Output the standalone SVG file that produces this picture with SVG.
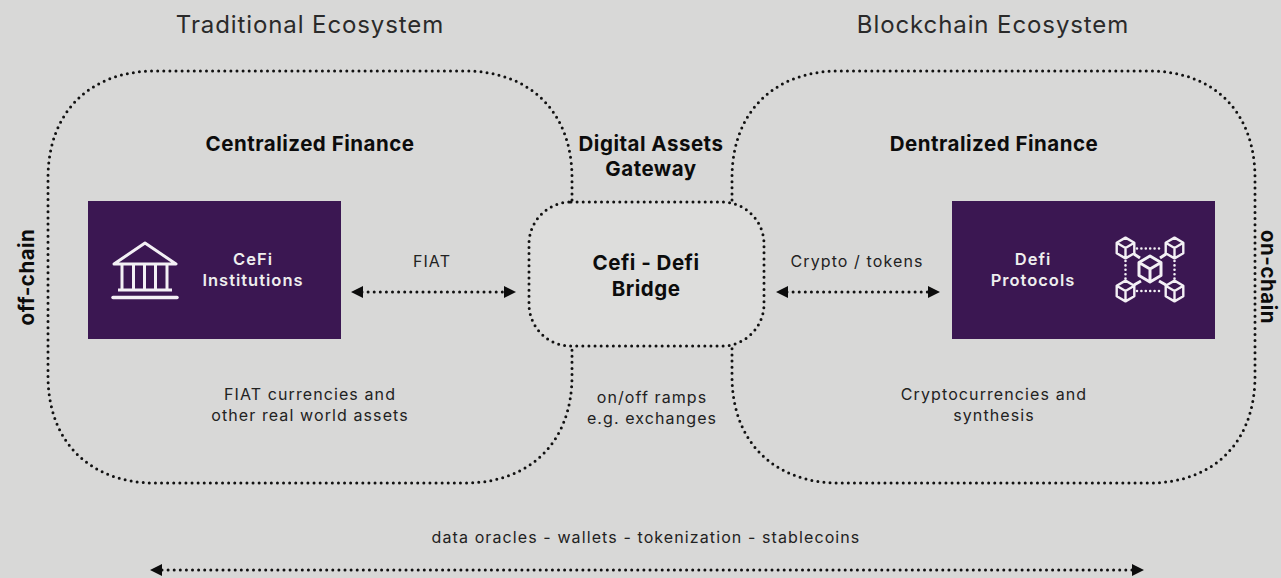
<svg xmlns="http://www.w3.org/2000/svg" width="1281" height="578" viewBox="0 0 1281 578">
<style>
text{font-family:Inter,"Open Sans","Liberation Sans",sans-serif;fill:#141414;text-anchor:middle}
.h{font-size:24px;font-weight:400;letter-spacing:.9px;fill:#2a2a2a}
.b{font-size:20.5px;font-weight:700;letter-spacing:.5px;fill:#0c0c0c}
.r{font-size:16px;font-weight:400;letter-spacing:1.1px;fill:#222}
.w{font-size:16.5px;font-weight:600;fill:#eee;letter-spacing:1px}
.d{fill:none;stroke:#111;stroke-width:3;stroke-linecap:round;stroke-dasharray:0 6.1}
.box{fill:#3b1752}
.i{fill:none;stroke:#f3f0f5;stroke-width:3;stroke-linejoin:round}
.id{fill:none;stroke:#f3f0f5;stroke-width:2.6;stroke-linecap:round;stroke-dasharray:0 4.4}
</style>
<defs>
<g id="cube"><path class="i" d="M0-13L11-6.500V6.500L0 13L-11 6.500V-6.500ZM-11-6.500L0 0L11-6.500M0 0V13"/></g>
</defs>
<rect width="1281" height="578" fill="#d8d8d7"/>
<text class="h" x="310" y="33">Traditional Ecosystem</text>
<text class="h" x="993" y="33">Blockchain Ecosystem</text>
<g id="connectors">
<path class="d" d="M572 200V178C572 112 530 71 465 71H155C90 71 48 112 48 178V376C48 442 90 483 155 483H465C530 483 572 442 572 376V348"/>
<path class="d" d="M732 200V178C732 112 774 71 839 71H1149C1214 71 1255 112 1255 178V376C1255 442 1214 483 1149 483H839C774 483 732 442 732 376V348"/>
<path class="d" d="M362 292H505"/>
<path class="d" d="M787 292H929"/>
<path class="d" d="M162 570H1132"/>
<path d="M351 292l12-6v12zM516 292l-12-6v12zM776 292l12-6v12zM940 292l-12-6v12zM150 570l12-6v12zM1144 570l-12-6v12z" fill="#0c0c0c"/>
</g>
<g id="bridge">
<rect class="d" x="529" y="202" width="235" height="144" rx="42" style="fill:#dddddc"/>
<text class="b" x="646" y="270">Cefi - Defi</text>
<text class="b" x="646" y="296">Bridge</text>
</g>
<g id="cefi-finance"><text class="b" x="310" y="151">Centralized Finance</text></g>
<g id="defi-finance"><text class="b" x="994" y="151">Dentralized Finance</text></g>
<g id="gateway"><text class="b" x="651" y="151">Digital Assets</text><text class="b" x="651" y="176">Gateway</text></g>
<g id="cefi">
<rect class="box" x="88" y="201" width="253" height="138"/>
<path class="i" d="M114 264L145 243L176 264Z"/>
<path class="i" d="M122 265V290M133.500 265V290M144.500 265V290M155.500 265V290M167 265V290M118 290H172"/>
<path d="M113 297.500H177" stroke="#f3f0f5" stroke-width="3.500" stroke-linecap="round"/>
<text class="w" x="253" y="265">CeFi</text>
<text class="w" x="253" y="286">Institutions</text>
</g>
<g id="defi">
<rect class="box" x="952" y="201" width="263" height="138"/>
<text class="w" x="1033" y="265">Defi</text>
<text class="w" x="1033" y="286">Protocols</text>
<use href="#cube" transform="translate(1125.500 248) scale(.8)"/>
<use href="#cube" transform="translate(1174.500 248) scale(.8)"/>
<use href="#cube" transform="translate(1125.500 291) scale(.8)"/>
<use href="#cube" transform="translate(1174.500 291) scale(.8)"/>
<use href="#cube" transform="translate(1150 269)"/>
<path class="id" d="M1137 248.500H1163M1137 291H1163M1125.500 261V279M1174.500 261V279"/>
<path class="i" d="M1134 254L1140 258M1166 254L1160 258M1134 285L1141 281M1166 285L1159 281"/>
</g>
<text class="r" x="432" y="267">FIAT</text>
<text class="r" x="857" y="267">Crypto / tokens</text>
<text class="r" x="310" y="400">FIAT currencies and</text>
<text class="r" x="310" y="421">other real world assets</text>
<text class="r" x="652" y="403">on/off ramps</text>
<text class="r" x="652" y="424">e.g. exchanges</text>
<text class="r" x="994" y="400">Cryptocurrencies and</text>
<text class="r" x="994" y="421">synthesis</text>
<text class="r" x="646" y="543">data oracles - wallets - tokenization - stablecoins</text>
<text class="b" transform="translate(34 277) rotate(-90)">off-chain</text>
<text class="b" transform="translate(1261 277) rotate(90)">on-chain</text>
</svg>
